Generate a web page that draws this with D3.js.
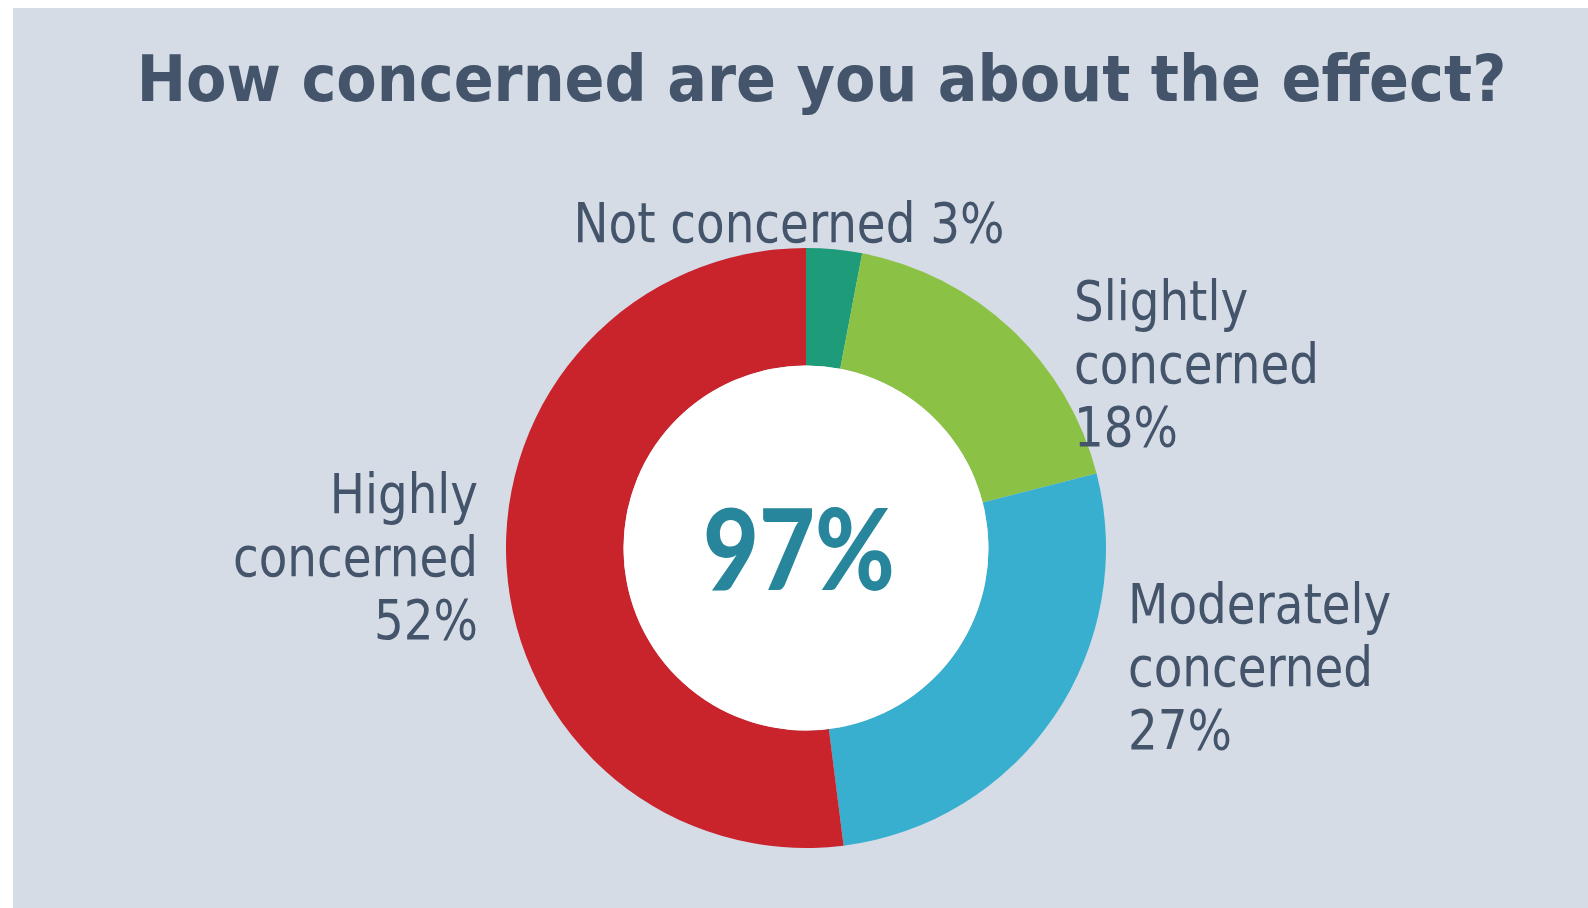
<!DOCTYPE html>
<html><head><meta charset="utf-8">
<script src="https://cdn.jsdelivr.net/npm/d3@7"></script>
<style>body{margin:0;background:#fff;overflow:hidden}</style></head>
<body><svg id="c" width="1588" height="908"></svg>
<script>
const categories = ["Not concerned", "Slightly concerned", "Moderately concerned", "Highly concerned"];
const values = [3, 18, 27, 52];
const colors = ["#1e9b79", "#8bc145", "#38afcf", "#c9232b"];
const labelLines = [["Not concerned 3%"], ["Slightly", "concerned", "18%"], ["Moderately", "concerned", "27%"], ["Highly", "concerned", "52%"]];
const title = "How concerned are you about the effect?";
const centerLabel = "97%";

// layout
const cx = 806, cy = 548, rOuter = 300, rInner = 182.5;
const textColor = "#44546a";
const labelPos = [
  {x: 789, y: 242, anchor: "middle"},
  {x: 1074, y: 320, anchor: "start"},
  {x: 1128, y: 623, anchor: "start"},
  {x: 478, y: 513, anchor: "end"}
];
const lineH = 63;

const svg = d3.select("#c");
svg.append("rect").attr("x", 13).attr("y", 8).attr("width", 1575).attr("height", 900).attr("fill", "#d5dce6");

// title: fit width by font size, restore cap height by vertical scale
const titleW = 1370, titleSize = 64;
const t = svg.append("text").attr("text-anchor", "middle")
  .attr("font-family", "DejaVu Sans").attr("font-weight", "bold").attr("font-size", titleSize)
  .attr("fill", textColor).text(title);
const tw = t.node().getComputedTextLength();
const fs = titleSize * titleW / tw;
t.attr("font-size", fs).attr("transform", `translate(821.5,101) scale(1,${titleSize / fs})`);

// donut
const pie = d3.pie().sort(null).value(d => d)(values);
const arc = d3.arc().innerRadius(rInner).outerRadius(rOuter);
const g = svg.append("g").attr("transform", `translate(${cx},${cy})`);
g.selectAll("path").data(pie).join("path").attr("d", arc).attr("fill", (d, i) => colors[i]);
g.append("circle").attr("r", rInner).attr("fill", "#fff");

// center label
const c = svg.append("text").attr("x", 799).attr("y", 590).attr("text-anchor", "middle")
  .attr("font-family", "Lato").attr("font-weight", 900).attr("font-size", 112)
  .attr("fill", "#27869b").text(centerLabel);
c.attr("textLength", 192).attr("lengthAdjust", "spacingAndGlyphs");

// labels
const labFont = {family: "DejaVu Sans Condensed", size: 55};
const probe = svg.append("text").attr("font-family", labFont.family).attr("font-size", labFont.size).text(labelLines[0][0]);
const sx = 431 / probe.node().getComputedTextLength();
probe.remove();

labelLines.forEach((lines, i) => {
  const p = labelPos[i];
  const tx = svg.append("text").attr("transform", `translate(${p.x},${p.y}) scale(${sx},1)`)
    .attr("text-anchor", p.anchor).attr("font-family", labFont.family).attr("font-size", labFont.size)
    .attr("fill", textColor);
  lines.forEach((l, j) => {
    tx.append("tspan").attr("x", 0).attr("y", j * lineH).text(l);
  });
});
</script></body></html>
